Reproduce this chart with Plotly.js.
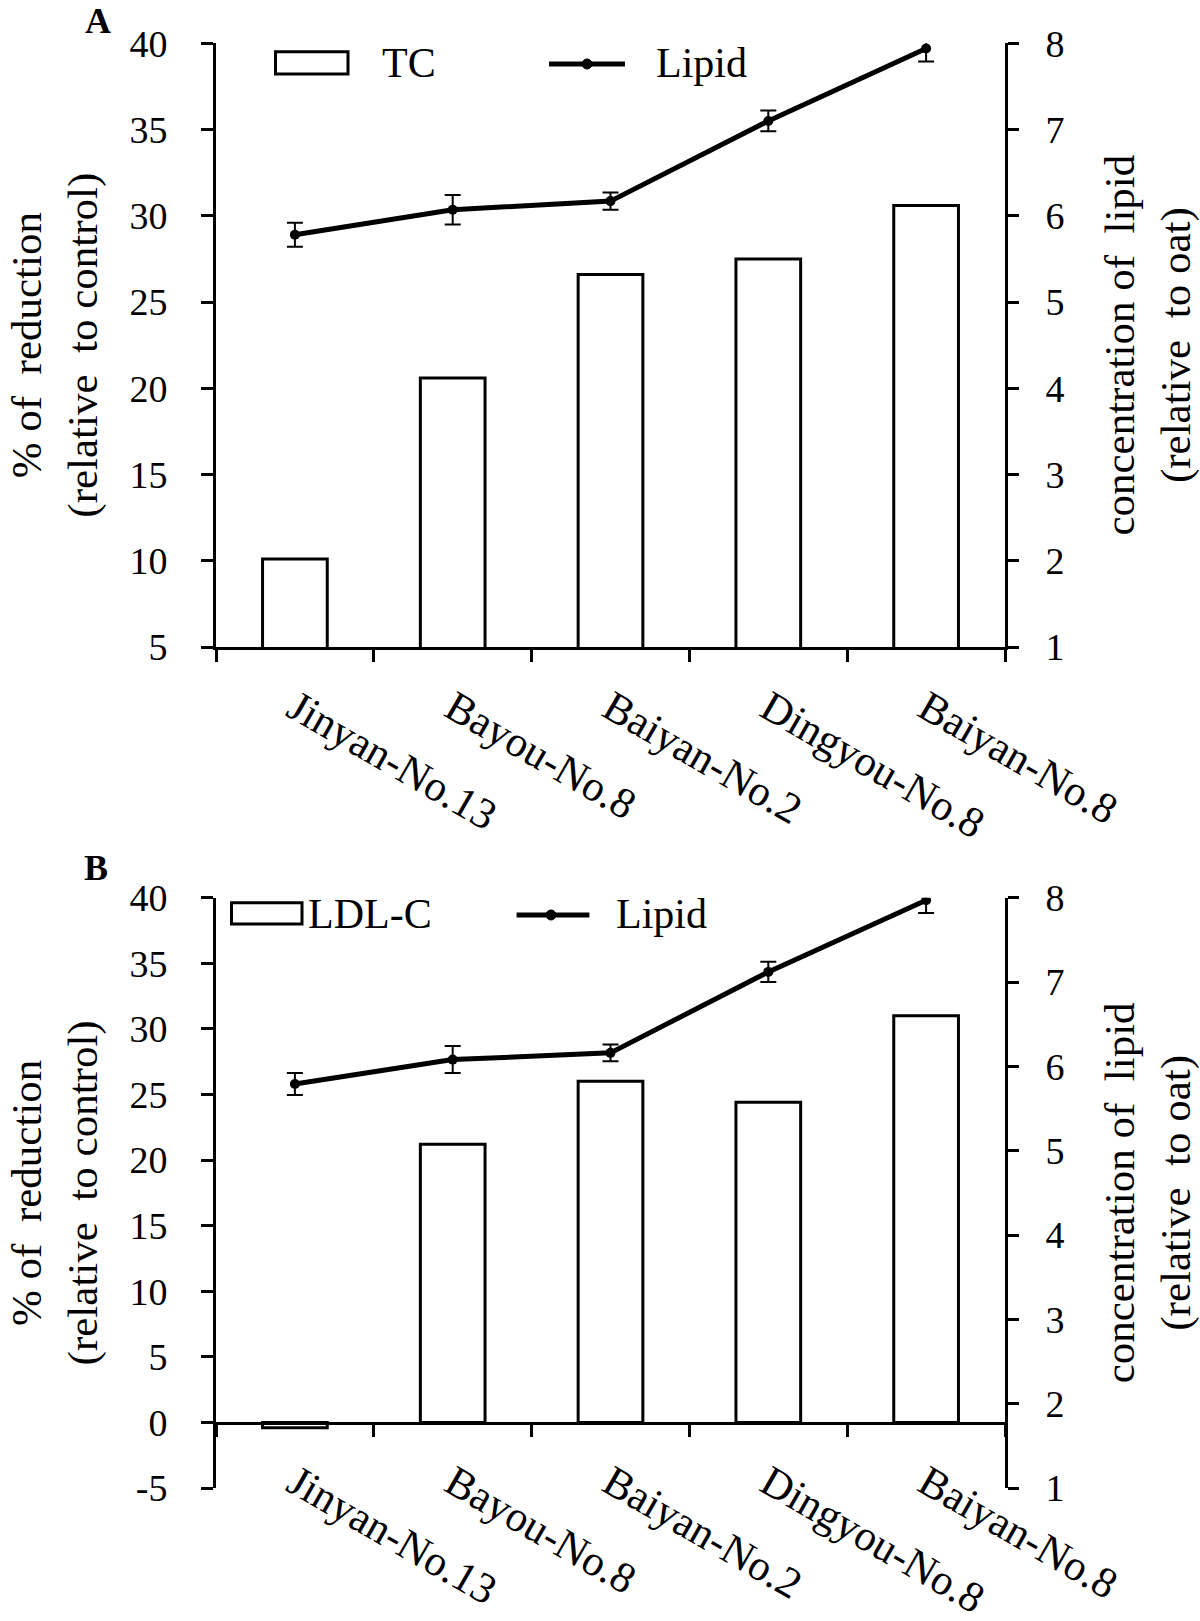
<!DOCTYPE html>
<html>
<head>
<meta charset="utf-8">
<script src="https://cdn.plot.ly/plotly-3.0.1.min.js"></script>
<style>
  html, body { margin: 0; padding: 0; background: #ffffff; }
  #chart { width: 1200px; height: 1621px; }
</style>
</head>
<body>
<div id="chart"></div>
<script>
// ---------------- data ----------------
const categories = ['Jinyan-No.13', 'Bayou-No.8', 'Baiyan-No.2', 'Dingyou-No.8', 'Baiyan-No.8'];

// Panel A: % reduction of TC (left axis) and lipid concentration (right axis)
const tcReduction = [10.1, 20.6, 26.6, 27.5, 30.6];
const lipidA      = [5.78, 6.07, 6.17, 7.10, 7.94];
const lipidErrA   = [0.14, 0.17, 0.10, 0.12, 0.15];

// Panel B: % reduction of LDL-C (left axis) and lipid concentration (right axis)
const ldlReduction = [-0.4, 21.2, 26.0, 24.4, 31.0];
const lipidB       = [5.79, 6.08, 6.16, 7.12, 7.97];
const lipidErrB    = [0.13, 0.16, 0.10, 0.12, 0.15];

// axis ranges and tick labels
const leftRangeA  = [5, 40];
const leftRangeB  = [-5, 40];
const rightRange  = [1, 8];
const leftTickValsB   = [-5, 0, 5, 10, 15, 20, 25, 30, 35, 40];
const leftTickLabelsB = ['-5', '0', '5', '10', '15', '20', '25', '30', '35', '40'];

// ---------------- styling helpers ----------------
const FONT = 'Liberation Serif, Times New Roman, serif';
const W = 1200, H = 1621;
const px = v => v / W;
const py = v => 1 - v / H;
const RIGHT_PAD = '\u00a0\u00a0';   // pushes right-axis tick labels away from the axis

const barStyle = {
  type: 'bar',
  width: 0.41,
  marker: { color: '#ffffff', line: { color: '#000000', width: 3 } },
  hoverinfo: 'skip',
  showlegend: false
};
const lineStyle = {
  type: 'scatter',
  mode: 'lines+markers',
  line: { color: '#000000', width: 5 },
  marker: { color: '#000000', size: 10 },
  hoverinfo: 'skip',
  showlegend: false
};

const traces = [
  Object.assign({}, barStyle, { x: categories, y: tcReduction, xaxis: 'x', yaxis: 'y', name: 'TC' }),
  Object.assign({}, lineStyle, {
    x: categories, y: lipidA, xaxis: 'x', yaxis: 'y2', name: 'Lipid',
    error_y: { type: 'data', array: lipidErrA, visible: true, color: '#000000', thickness: 2, width: 8 }
  }),
  Object.assign({}, barStyle, { x: categories, y: ldlReduction, xaxis: 'x2', yaxis: 'y3', name: 'LDL-C' }),
  Object.assign({}, lineStyle, {
    x: categories, y: lipidB, xaxis: 'x2', yaxis: 'y4', name: 'Lipid',
    error_y: { type: 'data', array: lipidErrB, visible: true, color: '#000000', thickness: 2, width: 8 }
  })
];

const xDomain = [px(216), px(1005)];
const domA = [py(647), py(43.3)];
const domB = [py(1488), py(897.7)];

function xAxis(extra) {
  return Object.assign({
    domain: xDomain,
    type: 'category',
    range: [-0.5, 4.5],
    showline: true, linecolor: '#000000', linewidth: 3,
    ticks: 'outside', tickson: 'boundaries', ticklen: 12, tickwidth: 3, tickcolor: '#000000',
    tickangle: 30,
    tickfont: { family: FONT, size: 43, color: '#000000' },
    ticklabelstandoff: 16,
    showgrid: false, zeroline: false, fixedrange: true
  }, extra);
}
function yAxis(extra) {
  return Object.assign({
    showline: true, linecolor: '#000000', linewidth: 3,
    ticks: 'outside', ticklen: 12, tickwidth: 3, tickcolor: '#000000',
    tickfont: { family: FONT, size: 38, color: '#000000' },
    ticklabelstandoff: 26,
    showgrid: false, zeroline: false, fixedrange: true,
    automargin: false
  }, extra);
}

const leftTitle = {
  text: '% of \u00a0reduction<br>(relative \u00a0to control)',
  font: { family: FONT, size: 43, color: '#000000' },
  standoff: 19
};
const rightTitle = {
  text: 'concentration of \u00a0lipid<br>(relative \u00a0to oat)',
  font: { family: FONT, size: 43, color: '#000000' },
  standoff: 45
};

const layout = {
  width: W, height: H,
  margin: { l: 0, r: 0, t: 0, b: 0 },
  paper_bgcolor: '#ffffff', plot_bgcolor: 'rgba(0,0,0,0)',
  showlegend: false,
  xaxis: xAxis({ anchor: 'y' }),
  yaxis: yAxis({ domain: domA, anchor: 'x', range: leftRangeA, tick0: 5, dtick: 5, title: leftTitle }),
  yaxis2: yAxis({ overlaying: 'y', side: 'right', anchor: 'x', range: rightRange, tick0: 1, dtick: 1,
                  ticklen: 11, ticklabelstandoff: 0, tickprefix: RIGHT_PAD, title: rightTitle }),
  xaxis2: xAxis({ anchor: 'free', position: py(1422.7) }),
  yaxis3: yAxis({ domain: domB, anchor: 'x2', range: leftRangeB, tickmode: 'array',
                  tickvals: leftTickValsB, ticktext: leftTickLabelsB, title: leftTitle }),
  yaxis4: yAxis({ overlaying: 'y3', side: 'right', anchor: 'x2', range: rightRange, tick0: 1, dtick: 1,
                  ticklen: 11, ticklabelstandoff: 0, tickprefix: RIGHT_PAD, title: rightTitle }),
  shapes: [
    // legend A
    { type: 'rect', xref: 'paper', yref: 'paper', x0: px(275.5), x1: px(348), y0: py(74), y1: py(51.7),
      line: { color: '#000000', width: 3 }, fillcolor: '#ffffff' },
    { type: 'line', xref: 'paper', yref: 'paper', x0: px(549), x1: px(625), y0: py(64), y1: py(64),
      line: { color: '#000000', width: 5 } },
    { type: 'circle', xref: 'paper', yref: 'paper', x0: px(582), x1: px(592), y0: py(69), y1: py(59),
      line: { color: '#000000', width: 1 }, fillcolor: '#000000' },
    // legend B
    { type: 'rect', xref: 'paper', yref: 'paper', x0: px(231.5), x1: px(302), y0: py(924), y1: py(902.7),
      line: { color: '#000000', width: 3 }, fillcolor: '#ffffff' },
    { type: 'line', xref: 'paper', yref: 'paper', x0: px(516.6), x1: px(589.4), y0: py(915), y1: py(915),
      line: { color: '#000000', width: 5 } },
    { type: 'circle', xref: 'paper', yref: 'paper', x0: px(546), x1: px(556), y0: py(920), y1: py(910),
      line: { color: '#000000', width: 1 }, fillcolor: '#000000' }
  ],
  annotations: [
    { text: '<b>A</b>', xref: 'paper', yref: 'paper', x: px(97.5), y: py(21), xanchor: 'center', yanchor: 'middle',
      showarrow: false, font: { family: FONT, size: 36, color: '#000000' } },
    { text: '<b>B</b>', xref: 'paper', yref: 'paper', x: px(96), y: py(868), xanchor: 'center', yanchor: 'middle',
      showarrow: false, font: { family: FONT, size: 36, color: '#000000' } },
    { text: 'TC', xref: 'paper', yref: 'paper', x: px(380), y: py(63), xanchor: 'left', yanchor: 'middle',
      showarrow: false, font: { family: FONT, size: 42, color: '#000000' } },
    { text: 'Lipid', xref: 'paper', yref: 'paper', x: px(654), y: py(63), xanchor: 'left', yanchor: 'middle',
      showarrow: false, font: { family: FONT, size: 42, color: '#000000' } },
    { text: 'LDL-C', xref: 'paper', yref: 'paper', x: px(306), y: py(914), xanchor: 'left', yanchor: 'middle',
      showarrow: false, font: { family: FONT, size: 42, color: '#000000' } },
    { text: 'Lipid', xref: 'paper', yref: 'paper', x: px(614), y: py(914), xanchor: 'left', yanchor: 'middle',
      showarrow: false, font: { family: FONT, size: 42, color: '#000000' } }
  ]
};

Plotly.newPlot('chart', traces, layout, { staticPlot: true, displayModeBar: false });
</script>
</body>
</html>
